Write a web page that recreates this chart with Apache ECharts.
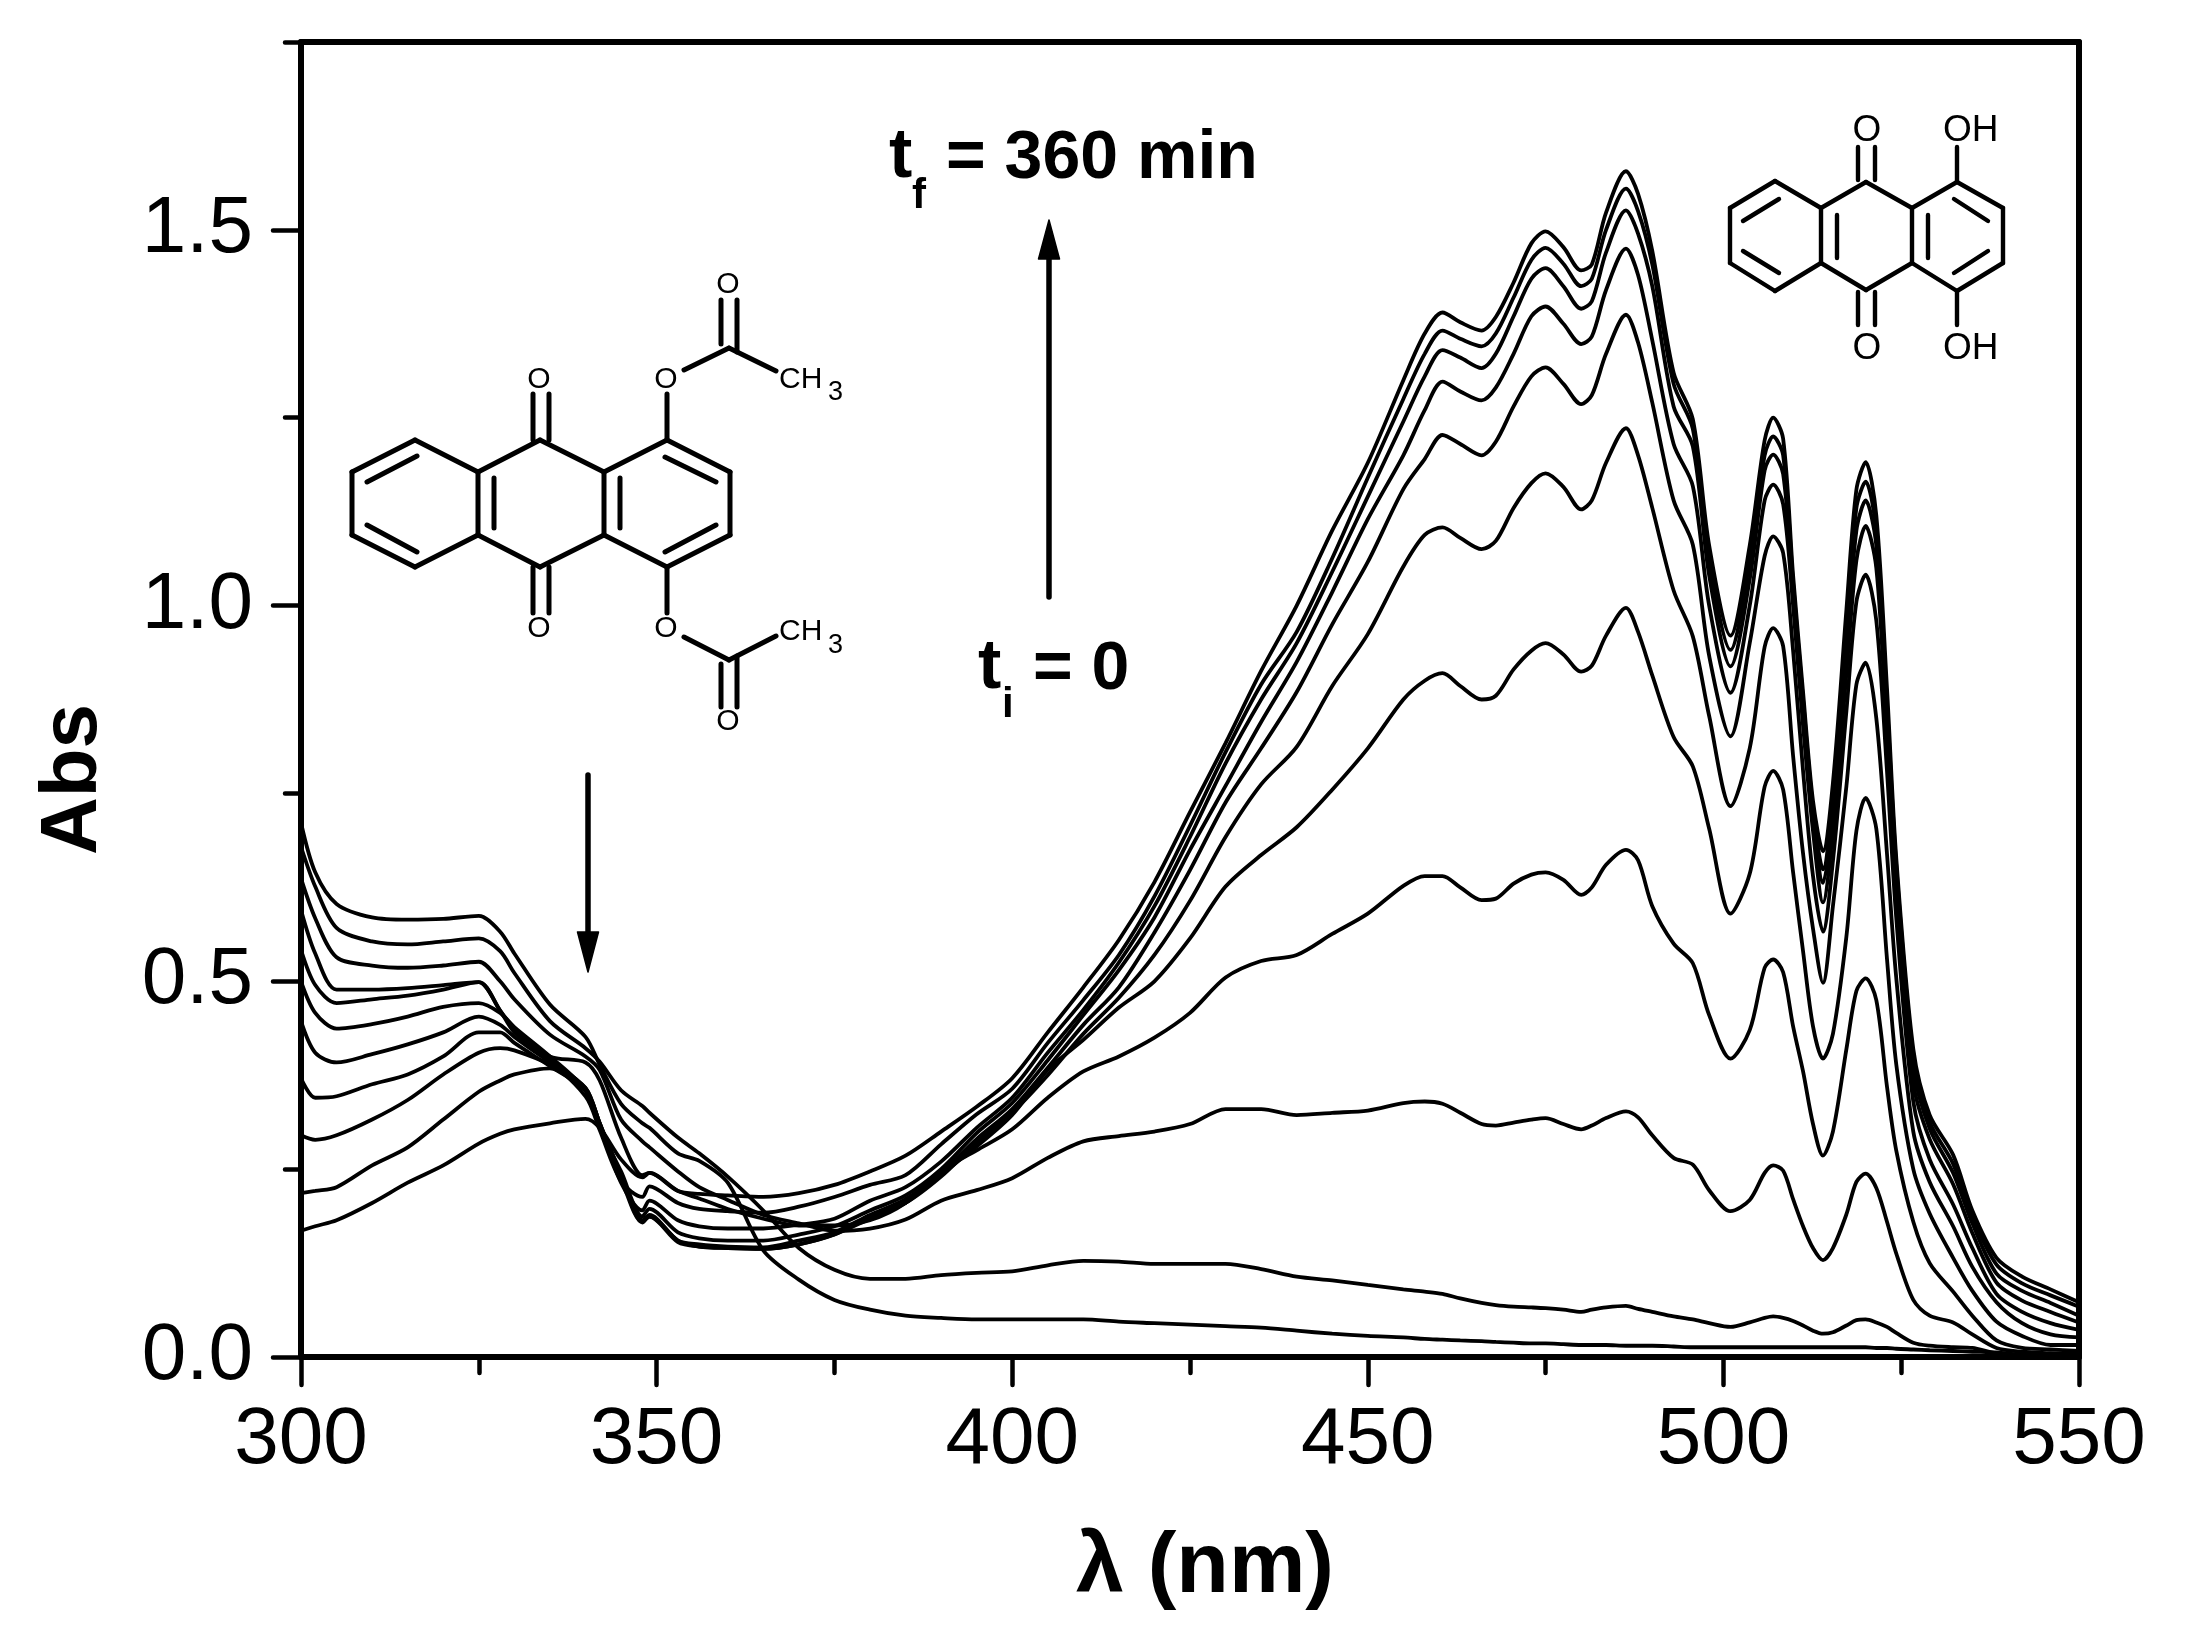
<!DOCTYPE html>
<html>
<head>
<meta charset="utf-8">
<style>
  html, body { margin: 0; padding: 0; background: #fff; }
  #main { width: 2189px; height: 1639px; }
</style>
<script src="https://cdn.jsdelivr.net/npm/echarts@6/dist/echarts.min.js"></script>
</head>
<body>
<div id="main"></div>
<script>
var wavelengths = [300,302,305,310,315,320,325,328,330,335,340,342,345,348,349,353,356,360,365,370,375,380,
  385,390,395,400,405,410,415,420,425,430,435,440,445,450,455,458,460.5,463,466,468,470.5,473,475,477.5,480,481.5,483.5,486.3,
  488,490,493,495.7,498,501,503.7,505.8,507,508.4,509.8,511.2,512.6,514,515.4,517.3,518.7,520,521.5,523,524.3,526.7,529,532.3,535,538.4,542,546,550];

// t = 0 first, t = 360 min last
var scan0 = [.711,.645,.603,.585,.582,.583,.587,.566,.537,.469,.426,.389,.337,.311,.305,.271,.261,.232,.142,.103,.076,.063,
  .055,.052,.05,.05,.05,.05,.047,.045,.043,.041,.039,.035,.031,.028,.026,.024,.023,.022,.021,.02,.019,.018,.018,.017,.016,.016,.016,.015,
  .015,.015,.014,.013,.013,.013,.013,.013,.013,.013,.013,.013,.013,.013,.013,.013,.013,.013,.012,.012,.011,.01,.009,.008,.007,.006,.003,.002,.001];
var scan1 = [.679,.626,.571,.553,.549,.553,.557,.54,.511,.447,.411,.393,.355,.334,.325,.292,.271,.24,.195,.145,.116,.104,
  .104,.109,.112,.114,.122,.128,.127,.124,.124,.124,.117,.107,.102,.096,.09,.087,.084,.078,.072,.069,.067,.066,.065,.063,.06,.063,.066,.068,
  .064,.06,.054,.05,.045,.04,.046,.052,.054,.052,.048,.042,.035,.031,.033,.042,.049,.05,.046,.04,.032,.019,.015,.013,.012,.005,.003,.002,.001];
var scan2 = [.637,.584,.532,.521,.518,.521,.526,.5,.476,.429,.4,.382,.316,.287,.279,.247,.226,.209,.189,.178,.168,.171,
  .183,.208,.222,.238,.265,.287,.294,.3,.31,.33,.33,.322,.325,.328,.338,.34,.337,.325,.31,.308,.312,.316,.318,.31,.303,.308,.318,.327,
  .319,.295,.265,.256,.222,.194,.209,.245,.255,.248,.21,.174,.145,.129,.145,.19,.233,.244,.225,.18,.138,.076,.055,.046,.03,.012,.007,.005,.004];
var scan3 = [.595,.537,.489,.489,.491,.495,.499,.461,.437,.4,.392,.368,.292,.242,.245,.221,.211,.197,.184,.175,.175,.182,
  .205,.248,.275,.303,.345,.38,.4,.425,.458,.505,.527,.535,.563,.59,.627,.64,.64,.625,.608,.61,.63,.642,.645,.635,.615,.625,.655,.675,
  .661,.6,.55,.524,.455,.397,.435,.518,.529,.512,.44,.38,.31,.268,.3,.41,.487,.504,.475,.36,.275,.18,.125,.087,.055,.022,.012,.01,.008];
var scan4 = [.542,.495,.471,.476,.481,.489,.499,.461,.432,.395,.358,.311,.242,.182,.187,.155,.147,.145,.144,.15,.163,.184,
  .205,.243,.28,.322,.382,.422,.465,.5,.557,.626,.668,.705,.755,.81,.875,.9,.91,.893,.875,.88,.915,.94,.95,.935,.912,.92,.96,.997,
  .965,.907,.825,.786,.703,.59,.643,.759,.78,.755,.645,.54,.44,.397,.43,.56,.7,.744,.703,.53,.39,.25,.191,.132,.088,.047,.028,.016,.016];
var scan5 = [.5,.458,.437,.443,.453,.466,.471,.458,.439,.4,.355,.305,.237,.179,.187,.153,.147,.145,.144,.15,.163,.187,
  .205,.24,.285,.325,.375,.43,.478,.535,.607,.692,.762,.812,.893,.962,1.052,1.094,1.104,1.09,1.075,1.086,1.13,1.163,1.176,1.158,1.128,1.14,1.19,1.236,
  1.2,1.13,1.02,.959,.853,.733,.81,.945,.97,.946,.8,.67,.57,.498,.6,.76,.895,.924,.85,.67,.505,.3,.233,.174,.12,.073,.045,.03,.026];
var scan6 = [.447,.405,.392,.403,.416,.432,.453,.442,.426,.392,.358,.311,.242,.18,.189,.155,.15,.147,.146,.155,.166,.189,
  .21,.245,.29,.33,.385,.442,.492,.565,.648,.738,.81,.885,.975,1.058,1.155,1.195,1.227,1.215,1.2,1.218,1.265,1.305,1.317,1.295,1.268,1.28,1.335,1.387,
  1.35,1.27,1.14,1.081,.933,.826,.95,1.066,1.092,1.07,.94,.78,.64,.566,.66,.86,1.005,1.041,.98,.78,.585,.34,.263,.203,.145,.084,.06,.045,.036];
var scan7 = [.371,.345,.347,.363,.376,.4,.432,.432,.418,.387,.355,.305,.247,.187,.197,.166,.158,.155,.155,.163,.174,.195,
  .215,.25,.298,.338,.395,.455,.515,.585,.675,.76,.845,.925,1.018,1.115,1.2,1.26,1.298,1.285,1.273,1.29,1.335,1.385,1.398,1.375,1.348,1.358,1.42,1.475,
  1.44,1.353,1.215,1.159,1,.884,1,1.14,1.161,1.135,1,.84,.7,.605,.7,.91,1.06,1.106,1.05,.83,.62,.365,.29,.23,.165,.099,.075,.06,.046];
var scan8 = [.295,.289,.295,.316,.342,.376,.405,.411,.408,.389,.355,.311,.232,.195,.208,.182,.174,.171,.171,.176,.184,.208,
  .226,.26,.305,.345,.405,.462,.525,.6,.692,.79,.875,.95,1.045,1.145,1.245,1.305,1.34,1.33,1.316,1.335,1.385,1.435,1.449,1.425,1.395,1.405,1.47,1.526,
  1.495,1.425,1.265,1.212,1.04,.919,1.035,1.18,1.201,1.175,1.02,.865,.72,.631,.72,.94,1.1,1.14,1.08,.85,.64,.385,.304,.245,.178,.111,.088,.072,.055];
var scan9 = [.218,.221,.226,.255,.279,.316,.353,.368,.376,.384,.347,.302,.234,.213,.227,.205,.197,.194,.192,.2,.213,.229,
  .242,.283,.323,.357,.418,.475,.535,.613,.707,.805,.895,.965,1.063,1.17,1.275,1.335,1.366,1.355,1.345,1.362,1.41,1.46,1.476,1.455,1.425,1.435,1.5,1.555,
  1.525,1.454,1.295,1.235,1.06,.941,1.06,1.2,1.225,1.2,1.03,.875,.73,.649,.745,.97,1.13,1.165,1.1,.87,.655,.4,.313,.257,.187,.123,.098,.082,.067];
var scan10 = [.168,.174,.182,.205,.232,.255,.284,.297,.303,.311,.317,.305,.263,.239,.245,.221,.217,.215,.213,.218,.229,.247,
  .268,.3,.333,.371,.432,.492,.555,.632,.725,.817,.913,1,1.1,1.19,1.3,1.362,1.39,1.377,1.366,1.384,1.43,1.482,1.498,1.477,1.446,1.454,1.523,1.578,
  1.548,1.472,1.31,1.248,1.08,.96,1.08,1.22,1.25,1.222,1.04,.885,.74,.673,.764,.995,1.154,1.191,1.12,.89,.665,.41,.322,.269,.195,.132,.107,.09,.073];

var scans = [scan0, scan1, scan2, scan3, scan4, scan5, scan6, scan7, scan8, scan9, scan10];
var xTicks = [300, 350, 400, 450, 500, 550];
var yMajor = [0, 0.5, 1, 1.5];
var yMinor = [0.25, 0.75, 1.25, 1.75];

var FONT = '"Liberation Sans", Arial, sans-serif';

var series = scans.map(function (s, i) {
  return {
    name: 'scan ' + i,
    type: 'line',
    showSymbol: false,
    smooth: 0.3,
    lineStyle: { color: '#000', width: 3.8 },
    data: s.map(function (v, j) { return [wavelengths[j], v]; })
  };
});

// structures and arrows sit on top as plain page graphics
function bonds(list, width) {
  return list.map(function (b) {
    return { type: 'line', z: 50, shape: { x1: b[0], y1: b[1], x2: b[2], y2: b[3] },
      style: { stroke: '#000', lineWidth: width, lineCap: 'round' } };
  });
}
function label(str, x, y, size, bold, align, base) {
  return { type: 'text', z: 51, x: x, y: y,
    style: { text: str, fill: '#000', font: (bold ? 'bold ' : '') + size + 'px ' + FONT,
      textAlign: align || 'center', textVerticalAlign: base || 'middle' } };
}
function arrow(x, yTail, yBase, yTip) {
  return [
    { type: 'line', z: 50, shape: { x1: x, y1: yTail, x2: x, y2: yBase },
      style: { stroke: '#000', lineWidth: 5.5, lineCap: 'round' } },
    { type: 'polygon', z: 50, shape: { points: [[x - 10.5, yBase], [x + 10.5, yBase], [x, yTip]] },
      style: { fill: '#000', stroke: '#000', lineWidth: 1.5, lineJoin: 'round' } }
  ];
}

var esterBonds = [
  [415,440,352,472],[352,472,352,535],[352,535,415,567],[415,567,478,535],[478,535,478,472],[478,472,415,440],
  [478,472,540,440],[540,440,604,472],[604,472,604,535],[604,535,540,567],[540,567,478,535],
  [604,472,667,440],[667,440,730,472],[730,472,730,535],[730,535,667,567],[667,567,604,535],
  [367,482,417,456],[367,525,417,552],[494,478,494,528],[620,478,620,528],[665,457,716,482],[665,552,716,525],
  [533,394,533,440],[549,394,549,440],[533,567,533,613],[549,567,549,613],
  [667,394,667,440],[667,567,667,613],
  [684,370,729,348],[721,300,721,344],[737,300,737,352],[729,348,776,371],
  [684,637,729,660],[721,664,721,707],[737,656,737,707],[729,660,776,636]
];
var dioBonds = [
  [1775,181,1730,208],[1730,208,1730,263],[1730,263,1775,291],[1775,291,1821,263],[1821,263,1821,208],[1821,208,1775,181],
  [1821,208,1866,182],[1866,182,1912,208],[1912,208,1912,263],[1912,263,1866,290],[1866,290,1821,263],
  [1912,208,1957,182],[1957,182,2003,208],[2003,208,2003,263],[2003,263,1957,291],[1957,291,1912,263],
  [1743,221,1779,199],[1743,251,1779,273],[1837,215,1837,258],[1928,215,1928,258],[1954,199,1988,221],[1954,273,1988,251],
  [1858,147,1858,180],[1875,147,1875,180],[1858,292,1858,325],[1875,292,1875,325],
  [1957,147,1957,182],[1957,291,1957,325]
];

var graphics = [].concat(
  bonds(esterBonds, 5),
  bonds(dioBonds, 4.4),
  arrow(1049, 597, 259, 220),
  arrow(588, 775, 932, 972),
  [
    label('O', 539, 380, 30), label('O', 539, 629, 30),
    label('O', 666, 380, 30), label('O', 666, 629, 30),
    label('O', 728, 285, 30), label('O', 728, 722, 30),
    label('CH', 779, 380, 30, false, 'left'), label('3', 828, 393, 27, false, 'left'),
    label('CH', 779, 632, 30, false, 'left'), label('3', 828, 646, 27, false, 'left'),
    label('O', 1867, 131, 37), label('O', 1867, 349, 37),
    label('OH', 1943, 131, 37, false, 'left'), label('OH', 1943, 349, 37, false, 'left'),
    label('t', 889, 193, 70, true, 'left', 'bottom'),
    label('f', 912, 217, 42, true, 'left', 'bottom'),
    label('= 360 min', 946, 193, 68, true, 'left', 'bottom'),
    label('t', 978, 704, 70, true, 'left', 'bottom'),
    label('i', 1002, 726, 42, true, 'left', 'bottom'),
    label('= 0', 1033, 704, 68, true, 'left', 'bottom')
  ]
);

var chart = echarts.init(document.getElementById('main'), null, { renderer: 'canvas' });
chart.setOption({
  animation: false,
  backgroundColor: '#fff',
  graphic: { elements: graphics },
  grid: { left: 301, right: 110, top: 42, bottom: 282, outerBoundsMode: 'none' },
  xAxis: [
    {
      type: 'value', position: 'bottom', min: xTicks[0], max: xTicks[xTicks.length - 1], interval: 50,
      name: 'λ (nm)', nameLocation: 'middle', nameGap: 168,
      nameTextStyle: { color: '#000', fontFamily: FONT, fontWeight: 'bold', fontSize: 86, padding: [0, 0, 0, 30] },
      axisLine: { onZero: false, lineStyle: { color: '#000', width: 6 } },
      axisTick: { inside: false, length: 28, lineStyle: { color: '#000', width: 4.5, cap: 'round' } },
      minorTick: { show: true, splitNumber: 2, length: 16, lineStyle: { color: '#000', width: 4.5, cap: 'round' } },
      axisLabel: { color: '#000', fontFamily: FONT, fontSize: 80, margin: 44 },
      splitLine: { show: false }
    },
    {
      type: 'value', position: 'top', min: 300, max: 550,
      axisLine: { onZero: false, lineStyle: { color: '#000', width: 6 } },
      axisTick: { show: false }, axisLabel: { show: false }, splitLine: { show: false }
    }
  ],
  yAxis: [
    {
      type: 'value', position: 'left', min: 0, max: 1.75,
      name: 'Abs', nameLocation: 'middle', nameGap: 187,
      nameTextStyle: { color: '#000', fontFamily: FONT, fontWeight: 'bold', fontSize: 80, padding: [0, 160, 0, 0] },
      axisLine: { onZero: false, lineStyle: { color: '#000', width: 6 } },
      axisTick: { length: 28, customValues: yMajor, lineStyle: { color: '#000', width: 4.5, cap: 'round' } },
      axisLabel: { color: '#000', fontFamily: FONT, fontSize: 80, margin: 48, customValues: yMajor,
        formatter: function (v) { return v.toFixed(1); } },
      splitLine: { show: false }
    },
    {
      type: 'value', position: 'left', min: 0, max: 1.75,
      axisLine: { show: false },
      axisTick: { length: 16, customValues: yMinor, lineStyle: { color: '#000', width: 4.5, cap: 'round' } },
      axisLabel: { show: false }, splitLine: { show: false }
    },
    {
      type: 'value', position: 'right', min: 0, max: 1.75,
      axisLine: { onZero: false, lineStyle: { color: '#000', width: 6 } },
      axisTick: { show: false }, axisLabel: { show: false }, splitLine: { show: false }
    }
  ],
  series: series
});
</script>
</body>
</html>
